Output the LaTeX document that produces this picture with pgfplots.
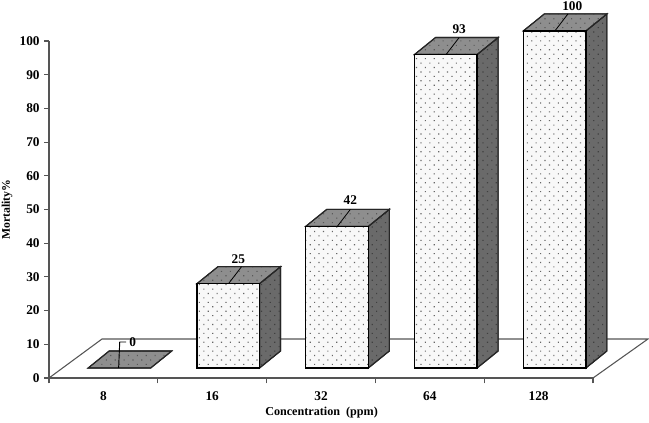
\documentclass[border=0pt]{standalone}
\usepackage{fontspec}
\setmainfont{Liberation Serif}
\usepackage{pgfplots}
\usetikzlibrary{patterns.meta}
\pgfplotsset{compat=1.18}
\definecolor{frontc}{HTML}{F8F8F8}
\definecolor{topc}{HTML}{8E8E8E}
\definecolor{sidec}{HTML}{6A6A6A}
\definecolor{linec}{HTML}{555555}
\pgfplotsset{
  front/.style={draw=black,line width=1.05pt,line join=miter,fill=frontc,
    postaction={pattern={Dots[distance=4.7pt,radius=0.6pt,angle=45]},pattern color=black!60}},
  top/.style={draw=black!85,line width=0.8pt,line join=miter,fill=topc,
    postaction={pattern={Dots[distance=4.7pt,radius=0.6pt,angle=45]},pattern color=black!65}},
  side/.style={draw=black!85,line width=0.8pt,line join=miter,fill=sidec,
    postaction={pattern={Dots[distance=4.7pt,radius=0.6pt,angle=45]},pattern color=black!75}},
}
\begin{document}
\begin{tikzpicture}
\useasboundingbox (-36.75pt,-33pt) rectangle (450pt,283.5pt);
\begin{axis}[
  scale only axis,
  width=408pt,
  height=252.75pt,
  clip=false,
  xmin=0,xmax=5,
  ymin=0,ymax=100,
  axis y line*=left,
  axis x line*=bottom,
  axis line style={linec,line width=0.9pt},
  tick style={linec,line width=0.8pt},
  tick align=outside,
  ytick={0,10,...,100},
  xtick={0.5,1.5,2.5,3.5,4.5},
  xticklabels={8,16,32,64,128},
  minor xtick={0,1,2,3,4,5},
  major tick length=3.5pt,
  minor tick length=4pt,
  x tick style={draw=none},
  minor x tick style={draw=linec,line width=0.8pt},
  tick label style={font=\bfseries\fontsize{10}{12}\selectfont},
  /pgf/number format/assume math mode=true,
  xticklabel style={yshift=-3pt},
  xlabel={Concentration\ \ (ppm)},
  ylabel={Mortality\%},
  every axis x label/.style={at={(axis description cs:0.501,-0.104)},anchor=center,
    font=\bfseries\fontsize{9.1}{11}\selectfont},
  every axis y label/.style={at={(axis description cs:-0.077,0.5)},rotate=90,anchor=center,
    font=\bfseries\fontsize{8.8}{10}\selectfont},
]
% floor
\addplot[linec,line width=0.8pt,mark=none] coordinates {(0,0) (0.487,11.57) (5.505,11.57) (5,0)};
% bar 8 (zero height, only the top face)
\addplot[top,mark=none] coordinates {(0.36,2.97) (0.935,2.97) (1.128,8.01) (0.553,8.01)} --cycle;
\addplot[black,line width=0.7pt,mark=none] coordinates {(0.64,2.97) (0.65,10.68) (0.71,10.68)};
% bar 16
\addplot[side,mark=none] coordinates {(1.935,2.97) (2.128,8.01) (2.128,33.04) (1.935,28)} --cycle;
\addplot[top,mark=none] coordinates {(1.36,28) (1.935,28) (2.128,33.04) (1.553,33.04)} --cycle;
\addplot[front,mark=none] coordinates {(1.36,2.97) (1.935,2.97) (1.935,28) (1.36,28)} --cycle;
\addplot[black,line width=0.6pt,mark=none] coordinates {(1.65,28) (1.77,33.04)};
% bar 32
\addplot[side,mark=none] coordinates {(2.935,2.97) (3.128,8.01) (3.128,50.04) (2.935,45)} --cycle;
\addplot[top,mark=none] coordinates {(2.36,45) (2.935,45) (3.128,50.04) (2.553,50.04)} --cycle;
\addplot[front,mark=none] coordinates {(2.36,2.97) (2.935,2.97) (2.935,45) (2.36,45)} --cycle;
\addplot[black,line width=0.6pt,mark=none] coordinates {(2.65,45) (2.77,50.04)};
% bar 64
\addplot[side,mark=none] coordinates {(3.935,2.97) (4.128,8.01) (4.128,101.04) (3.935,96)} --cycle;
\addplot[top,mark=none] coordinates {(3.36,96) (3.935,96) (4.128,101.04) (3.553,101.04)} --cycle;
\addplot[front,mark=none] coordinates {(3.36,2.97) (3.935,2.97) (3.935,96) (3.36,96)} --cycle;
\addplot[black,line width=0.6pt,mark=none] coordinates {(3.65,96) (3.77,101.04)};
% bar 128
\addplot[side,mark=none] coordinates {(4.935,2.97) (5.128,8.01) (5.128,108.04) (4.935,103)} --cycle;
\addplot[top,mark=none] coordinates {(4.36,103) (4.935,103) (5.128,108.04) (4.553,108.04)} --cycle;
\addplot[front,mark=none] coordinates {(4.36,2.97) (4.935,2.97) (4.935,103) (4.36,103)} --cycle;
\addplot[black,line width=0.6pt,mark=none] coordinates {(4.65,103) (4.77,108.04)};
% value labels
\addplot[draw=none,mark=none,point meta=explicit symbolic,nodes near coords,
  every node near coord/.style={anchor=center,font=\bfseries\fontsize{10}{12}\selectfont,inner sep=0pt}]
  coordinates {(0.77,10.68)[0] (1.74,35.3)[25] (2.77,52.8)[42] (3.77,103.6)[93] (4.81,110.4)[100]};
\end{axis}
\end{tikzpicture}
\end{document}
